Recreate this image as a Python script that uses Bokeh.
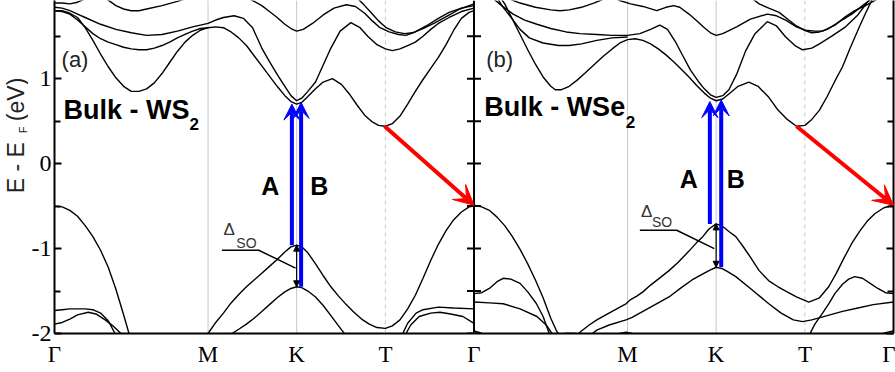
from math import pi
from bokeh.plotting import figure
from bokeh.layouts import row
from bokeh.models import (Span, Label, Arrow, VeeHead, NormalHead, FixedTicker,
                          LinearAxis, CustomJSTickFormatter)
from bokeh.embed import file_html
from bokeh.resources import INLINE

# ---------------- high-symmetry path (units of |Gamma-M|) ----------------
PATH_LEN = 2.732
sym_k = [0.0, 1.0, 1.577, 2.155, 2.732]
sym_names = ["Γ", "M", "K", "T", "Γ"]

# ---------------- Bulk WS2 bands: (k, E - E_F [eV]) ----------------
ws2_c1 = [(0, 1.80), (0.05, 1.80), (0.1, 1.77), (0.15, 1.72), (0.2, 1.60), (0.25, 1.45), (0.3, 1.29),
          (0.35, 1.14), (0.4, 1.01), (0.45, 0.91), (0.5, 0.85), (0.55, 0.85), (0.6, 0.88), (0.65, 0.95),
          (0.7, 1.06), (0.75, 1.19), (0.8, 1.32), (0.85, 1.43), (0.9, 1.51), (0.95, 1.57), (1.0, 1.60),
          (1.05, 1.61), (1.1, 1.60), (1.15, 1.55), (1.2, 1.48), (1.25, 1.39), (1.3, 1.27), (1.35, 1.15),
          (1.4, 1.03), (1.45, 0.91), (1.5, 0.80), (1.54, 0.73), (1.577, 0.70), (1.61, 0.72), (1.65, 0.79),
          (1.7, 0.88), (1.75, 0.96), (1.81, 1.00), (1.87, 0.93), (1.92, 0.82), (1.97, 0.69), (2.02, 0.57),
          (2.07, 0.49), (2.11, 0.45), (2.155, 0.44), (2.2, 0.47), (2.25, 0.56), (2.3, 0.70), (2.35, 0.85),
          (2.4, 0.99), (2.45, 1.12), (2.5, 1.25), (2.55, 1.40), (2.6, 1.57), (2.65, 1.71), (2.7, 1.78),
          (2.732, 1.80)]
ws2_c2 = [(0, 1.84), (0.05, 1.83), (0.1, 1.80), (0.15, 1.76), (0.2, 1.72), (0.3, 1.64), (0.4, 1.58),
          (0.5, 1.54), (0.6, 1.51), (0.7, 1.52), (0.8, 1.56), (0.9, 1.61), (1.0, 1.65), (1.05, 1.69),
          (1.1, 1.72), (1.17, 1.74), (1.23, 1.71), (1.29, 1.60), (1.35, 1.36), (1.4, 1.20), (1.45, 1.05),
          (1.5, 0.91), (1.54, 0.80), (1.577, 0.74), (1.61, 0.77), (1.65, 0.85), (1.7, 0.96), (1.75, 1.16),
          (1.8, 1.36), (1.86, 1.56), (1.93, 1.66), (1.99, 1.60), (2.04, 1.50), (2.1, 1.40), (2.155, 1.35),
          (2.2, 1.33), (2.25, 1.35), (2.3, 1.39), (2.35, 1.43), (2.4, 1.50), (2.45, 1.58), (2.5, 1.65),
          (2.57, 1.72), (2.65, 1.79), (2.732, 1.83)]
ws2_c3 = [(0, 1.80), (0.05, 1.79), (0.1, 1.76), (0.15, 1.69), (0.2, 1.61), (0.25, 1.53), (0.3, 1.47),
          (0.35, 1.43), (0.4, 1.40), (0.45, 1.37), (0.5, 1.35), (0.55, 1.34), (0.6, 1.34), (0.65, 1.36),
          (0.7, 1.39), (0.75, 1.43), (0.8, 1.48), (0.85, 1.52), (0.9, 1.56), (0.95, 1.59), (1.0, 1.60)]
ws2_c4 = [(1.22, 1.96), (1.28, 1.93), (1.35, 1.86), (1.4, 1.79), (1.45, 1.72), (1.5, 1.64), (1.54, 1.59),
          (1.577, 1.56), (1.62, 1.58), (1.68, 1.65), (1.75, 1.75), (1.82, 1.83), (1.9, 1.87), (1.96, 1.85),
          (2.02, 1.77), (2.07, 1.68), (2.12, 1.60), (2.18, 1.55), (2.24, 1.52), (2.29, 1.51), (2.35, 1.55),
          (2.42, 1.62), (2.5, 1.71), (2.57, 1.78), (2.65, 1.83), (2.732, 1.86)]
ws2_c5 = [(1.97, 1.95), (2.02, 1.86), (2.07, 1.76), (2.11, 1.68), (2.16, 1.60), (2.22, 1.55), (2.28, 1.53),
          (2.33, 1.54), (2.4, 1.59), (2.48, 1.66), (2.56, 1.74), (2.64, 1.82), (2.732, 1.88)]
ws2_c6 = [(0.33, 1.95), (0.4, 1.86), (0.45, 1.82), (0.5, 1.80), (0.55, 1.80), (0.6, 1.82), (0.7, 1.86),
          (0.8, 1.91), (0.87, 1.95)]
ws2_c7 = [(0, 1.89), (0.05, 1.89), (0.1, 1.88), (0.15, 1.90), (0.2, 1.94)]
ws2_v1 = [(0, -0.50), (0.05, -0.51), (0.1, -0.55), (0.15, -0.62), (0.2, -0.73), (0.25, -0.86), (0.3, -1.02),
          (0.35, -1.22), (0.4, -1.48), (0.45, -1.78), (0.49, -2.03)]
ws2_v2 = [(0.98, -2.05), (1.0, -2.0), (1.05, -1.87), (1.1, -1.76), (1.15, -1.64), (1.2, -1.54), (1.25, -1.45),
          (1.3, -1.37), (1.35, -1.29), (1.4, -1.21), (1.45, -1.13), (1.5, -1.04), (1.54, -0.98), (1.577, -0.96),
          (1.61, -0.98), (1.65, -1.05), (1.7, -1.18), (1.75, -1.32), (1.8, -1.45), (1.85, -1.56), (1.9, -1.66),
          (1.95, -1.75), (2.0, -1.83), (2.05, -1.89), (2.1, -1.93), (2.155, -1.94), (2.2, -1.91), (2.25, -1.84),
          (2.3, -1.71), (2.35, -1.55), (2.4, -1.35), (2.45, -1.14), (2.5, -0.95), (2.55, -0.79), (2.6, -0.66),
          (2.65, -0.57), (2.7, -0.51), (2.732, -0.50)]
ws2_v3 = [(1.13, -2.03), (1.2, -1.95), (1.25, -1.89), (1.3, -1.82), (1.35, -1.74), (1.4, -1.66), (1.45, -1.58),
          (1.5, -1.51), (1.54, -1.47), (1.577, -1.45), (1.61, -1.46), (1.65, -1.50), (1.7, -1.57), (1.75, -1.67),
          (1.8, -1.79), (1.85, -1.91), (1.9, -2.03)]
ws2_v4a = [(0, -1.73), (0.05, -1.72), (0.1, -1.71), (0.2, -1.71), (0.25, -1.72), (0.3, -1.76), (0.35, -1.85),
           (0.4, -2.02)]
ws2_v4b = [(2.26, -2.03), (2.3, -1.88), (2.355, -1.76), (2.4, -1.72), (2.5, -1.69), (2.6, -1.70), (2.732, -1.71)]
ws2_v5a = [(0, -1.89), (0.05, -1.87), (0.1, -1.83), (0.15, -1.78), (0.22, -1.75), (0.27, -1.77), (0.33, -1.84),
           (0.38, -1.91), (0.45, -2.03)]
ws2_v5b = [(2.28, -2.03), (2.32, -1.90), (2.375, -1.80), (2.45, -1.76), (2.51, -1.75), (2.58, -1.77),
           (2.66, -1.80), (2.732, -1.88)]

# ---------------- Bulk WSe2 bands ----------------
wse2_c1 = [(0.17, 1.96), (0.2, 1.88), (0.25, 1.70), (0.3, 1.52), (0.35, 1.34), (0.4, 1.17), (0.45, 1.02),
           (0.5, 0.91), (0.53, 0.87), (0.57, 0.87), (0.62, 0.91), (0.67, 0.98), (0.72, 1.06), (0.78, 1.16),
           (0.84, 1.26), (0.9, 1.35), (0.95, 1.42), (1.0, 1.46), (1.05, 1.47), (1.1, 1.45), (1.15, 1.41),
           (1.2, 1.35), (1.25, 1.28), (1.3, 1.20), (1.35, 1.11), (1.4, 1.02), (1.45, 0.92), (1.5, 0.83),
           (1.54, 0.77), (1.577, 0.74), (1.62, 0.76), (1.66, 0.82), (1.72, 0.91), (1.79, 0.96), (1.85, 0.91),
           (1.92, 0.78), (1.98, 0.63), (2.04, 0.52), (2.1, 0.44), (2.155, 0.45), (2.2, 0.52), (2.25, 0.63),
           (2.3, 0.79), (2.35, 0.97), (2.4, 1.14), (2.45, 1.36), (2.51, 1.61), (2.55, 1.77), (2.59, 1.92),
           (2.62, 2.0)]
wse2_c2 = [(0.12, 1.95), (0.18, 1.86), (0.255, 1.76), (0.33, 1.69), (0.41, 1.64), (0.5, 1.59), (0.6, 1.55),
           (0.69, 1.53), (0.8, 1.52), (0.9, 1.51), (1.0, 1.51), (1.08, 1.53), (1.15, 1.58), (1.21, 1.63),
           (1.26, 1.58), (1.31, 1.44), (1.36, 1.27), (1.41, 1.10), (1.46, 0.97), (1.5, 0.88), (1.54, 0.81),
           (1.577, 0.78), (1.62, 0.80), (1.66, 0.87), (1.71, 1.05), (1.77, 1.33), (1.83, 1.53), (1.91, 1.67),
           (1.97, 1.62), (2.03, 1.49), (2.09, 1.39), (2.14, 1.34), (2.2, 1.36), (2.25, 1.41), (2.33, 1.50),
           (2.42, 1.61), (2.5, 1.75), (2.57, 1.92), (2.6, 2.0)]
wse2_c3 = [(0.15, 1.95), (0.19, 1.84), (0.25, 1.70), (0.3, 1.58), (0.36, 1.48), (0.45, 1.42), (0.55, 1.39),
           (0.62, 1.39), (0.7, 1.41), (0.8, 1.45), (0.9, 1.48), (1.0, 1.49)]
wse2_c4 = [(0.9, 1.96), (0.95, 1.92), (1.02, 1.88), (1.1, 1.85), (1.19, 1.80), (1.25, 1.84), (1.3, 1.86),
           (1.34, 1.84), (1.4, 1.76), (1.445, 1.69), (1.5, 1.60), (1.54, 1.54), (1.577, 1.51), (1.62, 1.53),
           (1.71, 1.61), (1.8, 1.70), (1.91, 1.76), (1.97, 1.74), (2.03, 1.69), (2.1, 1.61), (2.16, 1.57),
           (2.22, 1.56), (2.27, 1.56), (2.35, 1.63), (2.42, 1.73), (2.48, 1.80), (2.55, 1.86), (2.62, 1.93)]
wse2_c5 = [(1.8, 1.96), (1.857, 1.88), (1.92, 1.83), (1.987, 1.78), (2.05, 1.69), (2.1, 1.62), (2.15, 1.57),
           (2.2, 1.54), (2.25, 1.55), (2.3, 1.58), (2.38, 1.67), (2.46, 1.76), (2.53, 1.86), (2.59, 1.94)]
wse2_c6 = [(0.2, 1.96), (0.3, 1.89), (0.4, 1.84), (0.5, 1.81), (0.56, 1.80), (0.62, 1.81), (0.7, 1.84),
           (0.78, 1.89), (0.85, 1.94)]
wse2_v1 = [(0, -0.49), (0.05, -0.51), (0.1, -0.55), (0.15, -0.63), (0.2, -0.73), (0.25, -0.86), (0.3, -1.01),
           (0.35, -1.18), (0.4, -1.37), (0.45, -1.58), (0.5, -1.82), (0.54, -1.98), (0.57, -2.03)]
wse2_v2 = [(0.66, -2.03), (0.7, -1.97), (0.75, -1.90), (0.8, -1.84), (0.85, -1.79), (0.9, -1.74), (0.95, -1.69),
           (0.99, -1.65), (1.02, -1.60), (1.06, -1.56), (1.1, -1.51), (1.15, -1.43), (1.2, -1.36), (1.27, -1.26),
           (1.33, -1.16), (1.4, -1.03), (1.45, -0.93), (1.49, -0.86), (1.53, -0.77), (1.577, -0.71),
           (1.62, -0.74), (1.66, -0.80), (1.705, -0.86), (1.75, -0.97), (1.8, -1.10), (1.857, -1.26),
           (1.92, -1.38), (1.98, -1.45), (2.03, -1.50), (2.1, -1.57), (2.18, -1.63), (2.25, -1.58), (2.31, -1.45),
           (2.36, -1.29), (2.41, -1.11), (2.46, -0.94), (2.51, -0.80), (2.56, -0.68), (2.61, -0.59),
           (2.67, -0.52), (2.732, -0.49)]
wse2_v3 = [(0.75, -2.03), (0.8, -1.96), (0.88, -1.90), (0.99, -1.84), (1.03, -1.81), (1.1, -1.74), (1.2, -1.64),
           (1.27, -1.57), (1.35, -1.46), (1.42, -1.37), (1.5, -1.29), (1.54, -1.25), (1.577, -1.22),
           (1.62, -1.24), (1.66, -1.28), (1.705, -1.33), (1.8, -1.47), (1.92, -1.65), (2.0, -1.76), (2.08, -1.84),
           (2.14, -1.86), (2.2, -1.84), (2.3, -1.79), (2.4, -1.74), (2.5, -1.70), (2.6, -1.66), (2.732, -1.63)]
wse2_v4a = [(0, -1.53), (0.05, -1.52), (0.1, -1.47), (0.15, -1.39), (0.19, -1.35), (0.24, -1.36), (0.3, -1.41),
            (0.35, -1.51), (0.407, -1.65), (0.45, -1.80), (0.494, -2.02)]
wse2_v4b = [(2.18, -2.03), (2.22, -1.89), (2.27, -1.76), (2.31, -1.65), (2.35, -1.53), (2.4, -1.42),
            (2.44, -1.36), (2.48, -1.33), (2.53, -1.35), (2.58, -1.41), (2.63, -1.47), (2.68, -1.52),
            (2.732, -1.53)]
wse2_v5 = [(0, -1.63), (0.1, -1.64), (0.19, -1.65), (0.3, -1.71), (0.41, -1.80), (0.47, -1.90), (0.52, -2.03)]
wse2_v6a = [(0, -1.97), (0.04, -1.99), (0.08, -2.03)]
wse2_v6b = [(2.62, -2.03), (2.68, -1.99), (2.732, -1.97)]
wse2_v7 = [(0.53, -2.03), (0.6, -1.995), (0.66, -2.0), (0.7, -2.03)]
wse2_v8 = [(0.87, -2.03), (0.95, -2.0), (0.99, -1.985), (1.03, -2.0), (1.06, -2.03)]

ws2_bands = [ws2_c1, ws2_c2, ws2_c3, ws2_c4, ws2_c5, ws2_c6, ws2_c7,
             ws2_v1, ws2_v2, ws2_v3, ws2_v4a, ws2_v4b, ws2_v5a, ws2_v5b]
wse2_bands = [wse2_c1, wse2_c2, wse2_c3, wse2_c4, wse2_c5, wse2_c6,
              wse2_v1, wse2_v2, wse2_v3, wse2_v4a, wse2_v4b, wse2_v5, wse2_v6a, wse2_v6b, wse2_v7, wse2_v8]

# ---------------- transitions (k, E_start, E_end) ----------------
ws2_A = (1.546, -0.96, 0.70)
ws2_B = (1.606, -1.45, 0.72)
ws2_indirect = ((2.15, 0.44), (2.732, -0.49))
ws2_dso = (1.577, -0.96, -1.45)
ws2_pointer = [(1.09, -1.02), (1.33, -1.02), (1.57, -1.23)]

wse2_A = (1.536, -0.71, 0.73)
wse2_B = (1.610, -1.22, 0.75)
wse2_indirect = ((2.10, 0.44), (2.732, -0.49))
wse2_dso = (1.577, -0.71, -1.22)
wse2_pointer = [(1.08, -0.785), (1.32, -0.785), (1.565, -1.0)]

y_major = [-2, -1, 0, 1]
y_minor = [-1.5, -0.5, 0.5, 1.5]
E_RANGE = (-2, 1.92)

SERIF = "Liberation Serif"
SANS = "Liberation Sans"

# ---------------- narrow strip holding the rotated y-axis title ----------------
lab_w = 28
yl = figure(width=lab_w, height=372, x_range=(0, lab_w), y_range=E_RANGE,
            output_backend="svg", toolbar_location=None,
            x_axis_location=None, y_axis_location=None,
            min_border_left=0, min_border_right=0, min_border_top=0, min_border_bottom=39)
yl.outline_line_color = None
yl.xgrid.visible = False
yl.ygrid.visible = False
for txt, xx, yy, size in (("E - E", 15.5, -0.35, "23px"), ("F", 22.5, 0.356, "11px"),
                          ("(eV)", 15.5, 0.50, "23px")):
    yl.add_layout(Label(x=xx, y=yy, text=txt, text_font=SANS, text_font_size=size, text_color="#222222",
                        text_align="left", text_baseline="middle", angle=pi / 2))

# ---------------- main band-structure figure ----------------
p = figure(width=895 - lab_w, height=372, x_range=(0, 2 * PATH_LEN), y_range=E_RANGE,
           output_backend="svg", toolbar_location=None,
           min_border_left=53 - lab_w, min_border_right=2, min_border_top=0, min_border_bottom=39)
p.outline_line_color = None
p.xgrid.visible = False
p.ygrid.visible = False
p.background_fill_color = "white"

ya = p.yaxis[0]
ya.ticker = FixedTicker(ticks=y_major, minor_ticks=y_minor)
ya.formatter = CustomJSTickFormatter(code="return String(tick)")
ya.major_tick_in = 7
ya.major_tick_out = 0
ya.minor_tick_in = 6
ya.minor_tick_out = 0
ya.axis_line_width = 2
ya.major_tick_line_width = 2
ya.minor_tick_line_width = 2
ya.major_label_standoff = 3
ya.major_label_text_font = SERIF
ya.major_label_text_font_size = "24px"
ya.major_label_text_color = "black"

ra = LinearAxis(ticker=FixedTicker(ticks=y_major, minor_ticks=y_minor),
                formatter=CustomJSTickFormatter(code="return ''"),
                major_tick_in=7, major_tick_out=0, minor_tick_in=6, minor_tick_out=0,
                axis_line_width=2, major_tick_line_width=2, minor_tick_line_width=2,
                major_label_standoff=0, major_label_text_font_size="0px")
p.add_layout(ra, "right")

all_k = sym_k + [k + PATH_LEN for k in sym_k[1:]]
all_names = sym_names + sym_names[1:]
xa = p.xaxis[0]
xa.ticker = FixedTicker(ticks=all_k)
xa.formatter = CustomJSTickFormatter(args=dict(names=all_names), code="return names[index]")
xa.major_tick_in = 0
xa.major_tick_out = 0
xa.axis_line_width = 2
xa.major_label_standoff = 8
xa.major_label_text_font = SERIF
xa.major_label_text_font_size = "23px"
xa.major_label_text_color = "black"

for off in (0.0, PATH_LEN):
    for k in sym_k[1:3]:
        p.add_layout(Span(location=k + off, dimension="height", line_color="#c8c8c8",
                          line_width=1, level="underlay"))
    p.add_layout(Span(location=sym_k[3] + off, dimension="height", line_color="#c8c8c8",
                      line_width=1, line_dash="4 4", level="underlay"))

p.add_layout(Span(location=PATH_LEN, dimension="height", line_color="black", line_width=2))
yt = y_major + y_minor
p.scatter([PATH_LEN] * len(yt), yt, marker="dash", size=14, line_color="black", line_width=2)

for bands, off in ((ws2_bands, 0.0), (wse2_bands, PATH_LEN)):
    for b in bands:
        p.line([k + off for k, _ in b], [e for _, e in b], line_color="black", line_width=1.4)


def panel_annotations(A, B, ind, dso, ptr, off):
    for (k, e0, e1) in (A, B):
        p.add_layout(Arrow(x_start=k + off, y_start=e0, x_end=k + off, y_end=e1,
                           line_color="blue", line_width=4,
                           end=VeeHead(size=16, fill_color="blue", line_color="blue", line_width=1)))
    (k0, e0), (k1, e1) = ind
    p.add_layout(Arrow(x_start=k0 + off, y_start=e0, x_end=k1 + off, y_end=e1,
                       line_color="red", line_width=4,
                       end=VeeHead(size=20, fill_color="red", line_color="red", line_width=1)))
    k, e0, e1 = dso
    p.add_layout(Arrow(x_start=k + off, y_start=e0, x_end=k + off, y_end=e1,
                       line_color="black", line_width=1.2,
                       start=NormalHead(size=6, fill_color="black", line_color="black"),
                       end=NormalHead(size=6, fill_color="black", line_color="black")))
    p.line([q + off for q, _ in ptr], [e for _, e in ptr], line_color="black", line_width=1.5)


panel_annotations(ws2_A, ws2_B, ws2_indirect, ws2_dso, ws2_pointer, 0.0)
panel_annotations(wse2_A, wse2_B, wse2_indirect, wse2_dso, wse2_pointer, PATH_LEN)


def lab(x, y, text, size, style="normal", color="black", align="left"):
    p.add_layout(Label(x=x, y=y, text=text, text_font=SANS, text_font_size=size,
                       text_font_style=style, text_color=color, text_align=align,
                       text_baseline="middle"))


lab(0.046, 1.22, "(a)", "22px", color="#222222")
lab(0.059, 0.627, "Bulk - WS", "27px", "bold")
lab(0.880, 0.462, "2", "17px", "bold")
lab(2.811, 1.22, "(b)", "22px", color="#222222")
lab(2.798, 0.663, "Bulk - WSe", "27px", "bold")
lab(3.720, 0.486, "2", "17px", "bold")

lab(1.405, -0.267, "A", "25px", "bold", align="center")
lab(1.724, -0.267, "B", "25px", "bold", align="center")
lab(4.131, -0.186, "A", "25px", "bold", align="center")
lab(4.437, -0.186, "B", "25px", "bold", align="center")

lab(1.100, -0.78, "Δ", "17px", color="#333333")
lab(1.184, -0.93, "SO", "14px", color="#333333")
lab(3.819, -0.567, "Δ", "17px", color="#333333")
lab(3.891, -0.69, "SO", "14px", color="#333333")

layout = row(yl, p)
open("out.html", "w").write(file_html(layout, INLINE))
